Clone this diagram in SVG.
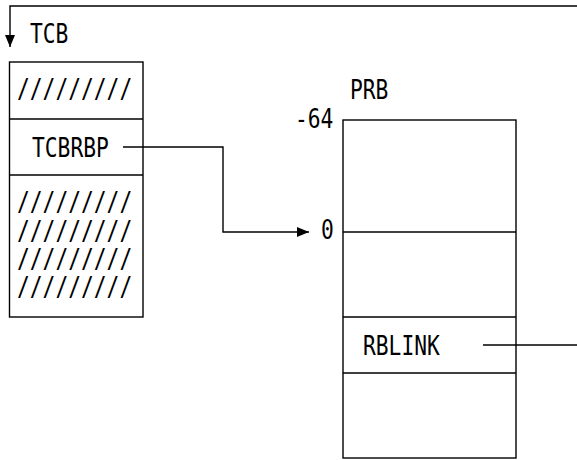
<svg xmlns="http://www.w3.org/2000/svg" width="577" height="460" viewBox="0 0 577 460">
<style>
.t{font-family:"DejaVu Sans Mono","Liberation Mono",monospace;font-size:26px;fill:#000}
.b{fill:#fff;stroke:#000;stroke-width:1.4}
.l{fill:none;stroke:#000;stroke-width:1.4}
</style>
<defs>
<marker id="ah" markerWidth="12" markerHeight="10" refX="12" refY="5" orient="auto" markerUnits="userSpaceOnUse">
<path d="M0,0 L12,5 L0,10 Z" fill="#000"/>
</marker>
</defs>
<g id="tcb">
<text class="t" x="30" y="43" textLength="38.4" lengthAdjust="spacingAndGlyphs">TCB</text>
<rect class="b" x="9.5" y="62" width="133.5" height="255"/>
<line class="l" x1="9.5" y1="119" x2="143" y2="119"/>
<line class="l" x1="9.5" y1="175" x2="143" y2="175"/>
<text class="t" x="17" y="98" textLength="115.2" lengthAdjust="spacingAndGlyphs">/////////</text>
<text class="t" x="32" y="157" textLength="76.8" lengthAdjust="spacingAndGlyphs">TCBRBP</text>
<text class="t" x="17" y="211" textLength="115.2" lengthAdjust="spacingAndGlyphs">/////////</text>
<text class="t" x="17" y="239.5" textLength="115.2" lengthAdjust="spacingAndGlyphs">/////////</text>
<text class="t" x="17" y="267.5" textLength="115.2" lengthAdjust="spacingAndGlyphs">/////////</text>
<text class="t" x="17" y="296" textLength="115.2" lengthAdjust="spacingAndGlyphs">/////////</text>
</g>
<g id="prb">
<text class="t" x="350" y="99" textLength="38.4" lengthAdjust="spacingAndGlyphs">PRB</text>
<text class="t" x="295" y="128" textLength="38.4" lengthAdjust="spacingAndGlyphs">-64</text>
<text class="t" x="321" y="239" textLength="12.8" lengthAdjust="spacingAndGlyphs">0</text>
<rect class="b" x="343" y="120" width="173" height="338"/>
<line class="l" x1="343" y1="232" x2="516" y2="232"/>
<line class="l" x1="343" y1="317" x2="516" y2="317"/>
<line class="l" x1="343" y1="373" x2="516" y2="373"/>
<text class="t" x="363" y="355" textLength="76.8" lengthAdjust="spacingAndGlyphs">RBLINK</text>
</g>
<g id="connectors">
<path class="l" d="M577,6 H10 V47" marker-end="url(#ah)"/>
<path class="l" d="M123,147 H223 V232 H309" marker-end="url(#ah)"/>
<path class="l" d="M483,345 H577"/>
</g>
</svg>
